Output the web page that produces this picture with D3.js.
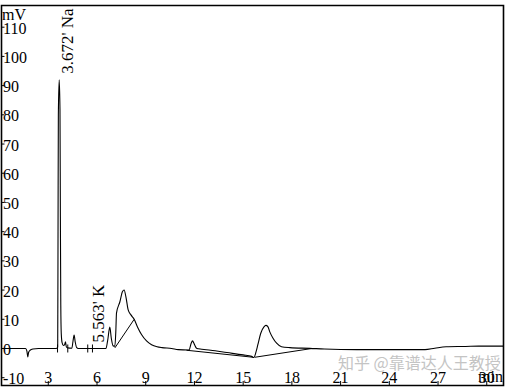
<!DOCTYPE html>
<html>
<head>
<meta charset="utf-8">
<script src="https://cdn.jsdelivr.net/npm/d3@7"></script>
<style>
  html, body { margin: 0; padding: 0; background: #fff; }
  svg { display: block; }
  .lbl { font-family: "Liberation Serif", "Times New Roman", serif; font-size: 16px; fill: #000; }
  .peak-lbl { font-family: "Liberation Serif", "Times New Roman", serif; font-size: 17px; fill: #000; }
  .trace { fill: none; stroke: #000; stroke-width: 1.1; }
  .skim { fill: none; stroke: #000; stroke-width: 1; }
  .frame { fill: none; stroke: #000; stroke-width: 1.6; }
  .wm { font-family: "Noto Sans CJK SC", sans-serif; font-size: 16px; fill: #c4c4c4; }
</style>
</head>
<body>
<div id="chart"></div>
<script>
// Cromatogramma ionico: tempo (min) contro segnale (mV)
const W = 507, H = 387;

// segnale [min, mV]
const signal = [
  [0.15, 0], [1.60, 0], [1.68, -0.8], [1.74, -2.9], [1.79, -1.3], [1.88, -0.6], [2.05, -0.2], [2.40, 0],
  [3.50, 0], [3.58, 0.5], [3.60, 40], [3.62, 80], [3.672, 92], [3.72, 82], [3.745, 45], [3.77, 15],
  [3.80, 5], [3.85, 2], [3.93, 1.0], [4.00, 1.2], [4.06, 2.3], [4.11, 0.6], [4.20, 0.2], [4.45, 0.1],
  [4.52, 2.4], [4.59, 4.6], [4.66, 2.2], [4.74, 0.4], [4.85, 0],
  [6.55, 0], [6.65, 2.5], [6.79, 7.3], [6.88, 3.5], [6.99, 0.9], [7.10, 0.8], [7.16, 6], [7.20, 12.1],
  [7.41, 16.0], [7.57, 19.5], [7.67, 20.0], [7.78, 17.7], [7.92, 13.2], [8.09, 11.5], [8.29, 10.0],
  [8.50, 7.3], [8.74, 4.8], [9.05, 2.6], [9.36, 1.3], [9.70, 0.6], [10.0, 0.3], [10.6, 0.0],
  [11.0, -0.4], [11.6, -0.5], [11.68, -0.4], [11.80, 1.8], [11.88, 2.6], [11.99, 1.5], [12.13, 0.1],
  [12.25, -0.1], [13.0, -0.6], [14.0, -1.4], [15.0, -2.2], [15.52, -2.7], [15.66, -3.1], [15.80, -1.0],
  [15.90, 1.2], [16.09, 5.3], [16.28, 7.4], [16.40, 7.9], [16.52, 7.5], [16.64, 5.7], [16.83, 3.6],
  [17.06, 1.8], [17.36, 0.6], [17.88, 0.3], [19.11, 0.05], [20.0, -0.2], [22.0, -0.4], [24.0, -0.4],
  [26.2, -0.4], [26.8, 0.1], [27.5, 0.6], [28.7, 0.7], [29.5, 0.8], [31.0, 0.8]
];

// linee di base dell'integrazione
const skimLines = [
  [[7.10, 0.2], [8.29, 10.0]],
  [[11.51, -0.6], [15.62, -3.0]],
  [[15.72, -3.0], [19.23, 0.0]]
];

// marcatori di inizio/fine picco
const eventMarks = [3.57, 4.20, 5.43, 5.72];

// etichette dei picchi
const peakTimes  = [3.672, 5.563];
const peakLevels = [92, 0];
const peakNames  = ["3.672' Na", "5.563' K"];

const xTicks = [3, 6, 9, 12, 15, 18, 21, 24, 27, 30];
const yTicks = [-10, 0, 10, 20, 30, 40, 50, 60, 70, 80, 90, 100, 110];

const svg = d3.select('#chart').append('svg')
  .attr('width', W).attr('height', H);

const x = d3.scaleLinear().domain([0.15, 31]).range([2, 503]);
const y = d3.scaleLinear().domain([-12.5, 117.6]).range([385, 5]);

// Filigrana
svg.append('text')
  .attr('class', 'wm')
  .attr('x', 338).attr('y', 369)
  .text('知乎 @靠谱达人王教授');

// Cornice
svg.append('path')
  .attr('class', 'frame')
  .attr('d', 'M1.5,385.5 L1.5,5.5 L503.5,5.5 L503.5,385.5 Z');

// Asse Y: tacche ed etichette
svg.selectAll('.ytick')
  .data(yTicks).enter()
  .append('line')
  .attr('x1', 1.5).attr('x2', 4.5)
  .attr('y1', d => y(d)).attr('y2', d => y(d))
  .attr('stroke', '#000');

svg.selectAll('.ylab')
  .data(yTicks).enter()
  .append('text')
  .attr('class', 'lbl')
  .attr('x', 3)
  .attr('y', d => y(d) + 1)
  .attr('dy', '0.35em')
  .text(d => d);

svg.append('text').attr('class', 'lbl')
  .attr('x', 2).attr('y', 14).attr('dy', '0.35em')
  .text('mV');

// Asse X: tacche ed etichette
svg.selectAll('.xtick')
  .data(xTicks).enter()
  .append('line')
  .attr('x1', d => x(d)).attr('x2', d => x(d))
  .attr('y1', 381).attr('y2', 385)
  .attr('stroke', '#000');

svg.selectAll('.xlab')
  .data(xTicks).enter()
  .append('text')
  .attr('class', 'lbl')
  .attr('x', d => x(d))
  .attr('y', 377)
  .attr('dy', '0.35em')
  .attr('text-anchor', 'middle')
  .text(d => d);

svg.append('text').attr('class', 'lbl')
  .attr('x', 503).attr('y', 376).attr('dy', '0.35em')
  .attr('text-anchor', 'end')
  .text('min');

// Linee di base
svg.selectAll('.skim')
  .data(skimLines).enter()
  .append('line')
  .attr('class', 'skim')
  .attr('x1', d => x(d[0][0])).attr('y1', d => y(d[0][1]))
  .attr('x2', d => x(d[1][0])).attr('y2', d => y(d[1][1]));

// Marcatori
svg.selectAll('.mark')
  .data(eventMarks).enter()
  .append('line')
  .attr('x1', d => x(d)).attr('x2', d => x(d))
  .attr('y1', y(0) - 4).attr('y2', y(0) + 4)
  .attr('stroke', '#000');

// Tracciato
svg.append('path')
  .datum(signal)
  .attr('class', 'trace')
  .attr('d', d3.line().x(d => x(d[0])).y(d => y(d[1])).curve(d3.curveMonotoneX));

// Etichette picchi (ruotate)
svg.selectAll('.peak-lbl')
  .data(peakTimes).enter()
  .append('text')
  .attr('class', 'peak-lbl')
  .attr('transform', (d, i) => `translate(${x(d) + 14},${y(peakLevels[i]) - 6}) rotate(-90)`)
  .text((d, i) => peakNames[i]);
</script>
</body>
</html>
